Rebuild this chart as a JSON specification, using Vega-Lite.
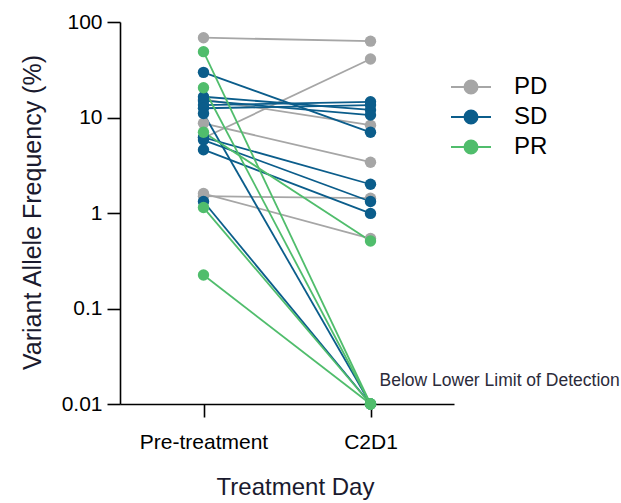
{
  "$schema": "https://vega.github.io/schema/vega-lite/v6.json",
  "autosize": {"type": "none"},
  "padding": {"left": 120, "top": 22, "right": 167, "bottom": 99},
  "width": 334,
  "height": 382,
  "background": "white",
  "config": {
    "view": {"stroke": null},
    "font": "Liberation Sans",
    "axis": {
      "domainColor": "black",
      "domainWidth": 1.6,
      "tickColor": "black",
      "tickWidth": 1.6,
      "tickSize": 13,
      "grid": false,
      "labelColor": "black",
      "titleColor": "#1a1a2e",
      "labelFont": "Liberation Sans",
      "labelFontSize": 21,
      "titleFont": "Liberation Sans",
      "titleFontSize": 24,
      "titleFontWeight": "normal"
    },
    "legend": {
      "title": null,
      "orient": "none",
      "legendX": 339,
      "legendY": 53,
      "padding": 0,
      "symbolType": "M-2,0L2,0M-0.65,0A0.65,0.65,0,1,1,0.65,0A0.65,0.65,0,1,1,-0.65,0",
      "symbolSize": 400,
      "symbolStrokeWidth": 2,
      "symbolOpacity": 1,
      "rowPadding": 6,
      "labelOffset": 31,
      "labelFontSize": 24,
      "labelFont": "Liberation Sans",
      "labelColor": "black"
    }
  },
  "datasets": {
    "vaf": [
      {"patient": "P1", "response": "PD", "day": "Pre-treatment", "vaf": 68.5},
      {"patient": "P1", "response": "PD", "day": "C2D1", "vaf": 63},
      {"patient": "P2", "response": "PD", "day": "Pre-treatment", "vaf": 6.1},
      {"patient": "P2", "response": "PD", "day": "C2D1", "vaf": 41},
      {"patient": "P3", "response": "PD", "day": "Pre-treatment", "vaf": 15.5},
      {"patient": "P3", "response": "PD", "day": "C2D1", "vaf": 8.3},
      {"patient": "P4", "response": "PD", "day": "Pre-treatment", "vaf": 8.7},
      {"patient": "P4", "response": "PD", "day": "C2D1", "vaf": 3.4},
      {"patient": "P5", "response": "PD", "day": "Pre-treatment", "vaf": 1.5},
      {"patient": "P5", "response": "PD", "day": "C2D1", "vaf": 1.43},
      {"patient": "P6", "response": "PD", "day": "Pre-treatment", "vaf": 1.6},
      {"patient": "P6", "response": "PD", "day": "C2D1", "vaf": 0.54},
      {"patient": "S1", "response": "SD", "day": "Pre-treatment", "vaf": 29.7},
      {"patient": "S1", "response": "SD", "day": "C2D1", "vaf": 7.0},
      {"patient": "S2", "response": "SD", "day": "Pre-treatment", "vaf": 16.5},
      {"patient": "S2", "response": "SD", "day": "C2D1", "vaf": 12},
      {"patient": "S3", "response": "SD", "day": "Pre-treatment", "vaf": 15},
      {"patient": "S3", "response": "SD", "day": "C2D1", "vaf": 10.6},
      {"patient": "S4", "response": "SD", "day": "Pre-treatment", "vaf": 13.5},
      {"patient": "S4", "response": "SD", "day": "C2D1", "vaf": 14.6},
      {"patient": "S5", "response": "SD", "day": "Pre-treatment", "vaf": 12.5},
      {"patient": "S5", "response": "SD", "day": "C2D1", "vaf": 13.5},
      {"patient": "S6", "response": "SD", "day": "Pre-treatment", "vaf": 11},
      {"patient": "S6", "response": "SD", "day": "C2D1", "vaf": 0.01},
      {"patient": "S7", "response": "SD", "day": "Pre-treatment", "vaf": 6.2},
      {"patient": "S7", "response": "SD", "day": "C2D1", "vaf": 2.0},
      {"patient": "S8", "response": "SD", "day": "Pre-treatment", "vaf": 5.8},
      {"patient": "S8", "response": "SD", "day": "C2D1", "vaf": 1.32},
      {"patient": "S9", "response": "SD", "day": "Pre-treatment", "vaf": 4.6},
      {"patient": "S9", "response": "SD", "day": "C2D1", "vaf": 0.99},
      {"patient": "S10", "response": "SD", "day": "Pre-treatment", "vaf": 1.32},
      {"patient": "S10", "response": "SD", "day": "C2D1", "vaf": 0.01},
      {"patient": "R1", "response": "PR", "day": "Pre-treatment", "vaf": 48.9},
      {"patient": "R1", "response": "PR", "day": "C2D1", "vaf": 0.01},
      {"patient": "R2", "response": "PR", "day": "Pre-treatment", "vaf": 20.5},
      {"patient": "R2", "response": "PR", "day": "C2D1", "vaf": 0.01},
      {"patient": "R3", "response": "PR", "day": "Pre-treatment", "vaf": 7.0},
      {"patient": "R3", "response": "PR", "day": "C2D1", "vaf": 0.51},
      {"patient": "R4", "response": "PR", "day": "Pre-treatment", "vaf": 1.14},
      {"patient": "R4", "response": "PR", "day": "C2D1", "vaf": 0.01},
      {"patient": "R5", "response": "PR", "day": "Pre-treatment", "vaf": 0.224},
      {"patient": "R5", "response": "PR", "day": "C2D1", "vaf": 0.01}
    ],
    "note": [
      {"label": "Below Lower Limit of Detection", "day": "C2D1", "vaf": 0.01}
    ]
  },
  "layer": [
    {
      "data": {"name": "vaf"},
      "mark": {"type": "line", "strokeWidth": 1.8},
      "encoding": {
        "x": {"field": "day", "type": "nominal", "sort": ["Pre-treatment", "C2D1"],
              "scale": {"type": "point", "padding": 0.5},
              "axis": {"title": "Treatment Day", "labelAngle": 0, "labelPadding": 14, "titlePadding": 23, "titleX": 175}},
        "y": {"field": "vaf", "type": "quantitative",
              "scale": {"type": "log", "domain": [0.01, 100], "nice": false},
              "axis": {"title": "Variant Allele Frequency (%)", "values": [0.01, 0.1, 1, 10, 100], "format": "~g", "labelPadding": 5, "titlePadding": 16, "titleFontSize": 25, "titleY": 190}},
        "color": {"field": "response", "type": "nominal",
                  "scale": {"domain": ["PD", "SD", "PR"], "range": ["#a6a6a6", "#0b5d8b", "#50bd6c"]}},
        "detail": {"field": "patient"},
        "order": {"field": "day", "sort": "descending"}
      }
    },
    {
      "data": {"name": "vaf"},
      "mark": {"type": "point", "filled": true, "size": 130, "opacity": 1},
      "encoding": {
        "x": {"field": "day", "type": "nominal", "sort": ["Pre-treatment", "C2D1"]},
        "y": {"field": "vaf", "type": "quantitative"},
        "color": {"field": "response", "type": "nominal"}
      }
    },
    {
      "data": {"name": "note"},
      "mark": {"type": "text", "align": "left", "baseline": "middle", "dx": 9, "dy": -23, "fontSize": 17.5, "font": "Liberation Sans", "color": "#2b2b3a"},
      "encoding": {
        "x": {"field": "day", "type": "nominal", "sort": ["Pre-treatment", "C2D1"]},
        "y": {"field": "vaf", "type": "quantitative"},
        "text": {"field": "label"}
      }
    }
  ]
}
